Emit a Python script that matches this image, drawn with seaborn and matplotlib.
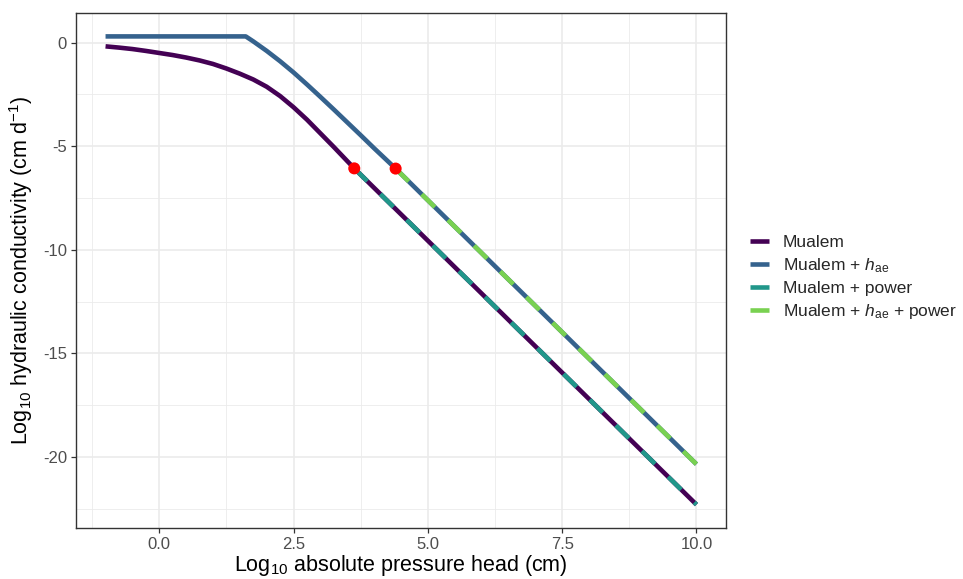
import numpy as np
import pandas as pd
import matplotlib
matplotlib.use("Agg")
import matplotlib.pyplot as plt
import seaborn as sns
from matplotlib.lines import Line2D
from matplotlib.ticker import MultipleLocator

# values (log10 h in cm, log10 K in cm/d)
mualem_x = [-1.0, -0.75, -0.5, -0.25, 0.0, 0.25, 0.5, 0.75, 1.0, 1.25, 1.5,
            1.75, 2.0, 2.25, 2.5, 2.75, 3.0, 3.25, 3.5, 3.63, 10.0]
mualem_y = [-0.18, -0.24, -0.31, -0.40, -0.50, -0.60, -0.72, -0.86, -1.03,
            -1.25, -1.50, -1.78, -2.13, -2.58, -3.12, -3.72, -4.38, -5.04,
            -5.72, -6.07, -22.3]

hae_x = [-1.0, 1.61, 1.75, 2.0, 2.25, 2.5, 2.75, 3.0, 3.25, 3.5, 3.75, 4.0,
         4.4, 10.0]
hae_y = [0.30, 0.30, 0.06, -0.40, -0.90, -1.44, -2.02, -2.62, -3.23, -3.85,
         -4.47, -5.10, -6.08, -20.35]

power_x = [3.63, 10.0]
power_y = [-6.07, -22.3]

hae_power_x = [4.4, 10.0]
hae_power_y = [-6.08, -20.35]

joint_x = [3.63, 4.4]
joint_y = [-6.07, -6.08]

labels = ["Mualem", "Mualem + $h_{\\mathrm{ae}}$", "Mualem + power",
          "Mualem + $h_{\\mathrm{ae}}$ + power"]
colors = ["#440154", "#35628D", "#21978A", "#79D151"]

sns.set_theme(style="whitegrid")
plt.rcParams['font.family'] = ['Liberation Sans', 'DejaVu Sans']
plt.rcParams['mathtext.fontset'] = 'custom'
plt.rcParams['mathtext.rm'] = 'Liberation Sans'
plt.rcParams['mathtext.it'] = 'Liberation Sans:italic'
plt.rcParams['axes.unicode_minus'] = False

fig, ax = plt.subplots(figsize=(9.63, 5.79), dpi=100)
fig.subplots_adjust(left=76/963, right=726/963, top=1-13/579, bottom=1-528/579)

lw = 3.3
dash = (0, (4.0, 4.0))
series = [(mualem_x, mualem_y, "-"), (hae_x, hae_y, "-"),
          (power_x, power_y, dash), (hae_power_x, hae_power_y, dash)]
for (xs, ys, ls), c in zip(series, colors):
    df = pd.DataFrame({"h": xs, "k": ys})
    sns.lineplot(data=df, x="h", y="k", ax=ax, color=c, lw=lw, linestyle=ls,
                 sort=False, estimator=None, solid_capstyle="butt",
                 dash_capstyle="butt", solid_joinstyle="round")

sns.scatterplot(x=joint_x, y=joint_y, ax=ax, color="#FF0000", s=75,
                edgecolor="none", zorder=5)

ax.set_xlim(-1.55, 10.55)
ax.set_ylim(-23.43, 1.43)
ax.xaxis.set_minor_locator(MultipleLocator(1.25))
ax.yaxis.set_minor_locator(MultipleLocator(2.5))
ax.set_xticks([0, 2.5, 5, 7.5, 10])
ax.set_xticklabels(["0.0", "2.5", "5.0", "7.5", "10.0"])
ax.set_yticks([0, -5, -10, -15, -20])
ax.set_yticklabels(["0", "-5", "-10", "-15", "-20"])

ax.grid(which="major", color="#EBEBEB", lw=1.2)
ax.grid(which="minor", color="#EBEBEB", lw=0.6)
ax.set_axisbelow(True)
for s in ax.spines.values():
    s.set_color("#333333")
    s.set_linewidth(1.0)
ax.tick_params(which="major", length=3.5, width=0.9, color="#333333",
               labelsize=12, labelcolor="#4D4D4D", pad=3,
               bottom=True, left=True)
ax.tick_params(which="minor", length=0)

ax.set_xlabel("Log$_{10}$ absolute pressure head (cm)", fontsize=15.5,
              color="black", labelpad=1)
ax.set_ylabel("Log$_{10}$ hydraulic conductivity (cm d$^{-1}$)", fontsize=15.5,
              color="black", labelpad=6)

handles = [Line2D([0], [0], color=c, lw=lw, solid_capstyle="butt") for c in colors]
ax.legend(handles, labels, loc="center left", bbox_to_anchor=(1.037, 0.485),
          frameon=False, fontsize=12.5, handlelength=1.1, handletextpad=0.8,
          labelspacing=0.35, borderaxespad=0, borderpad=0)

fig.savefig("out.png", dpi=100)
